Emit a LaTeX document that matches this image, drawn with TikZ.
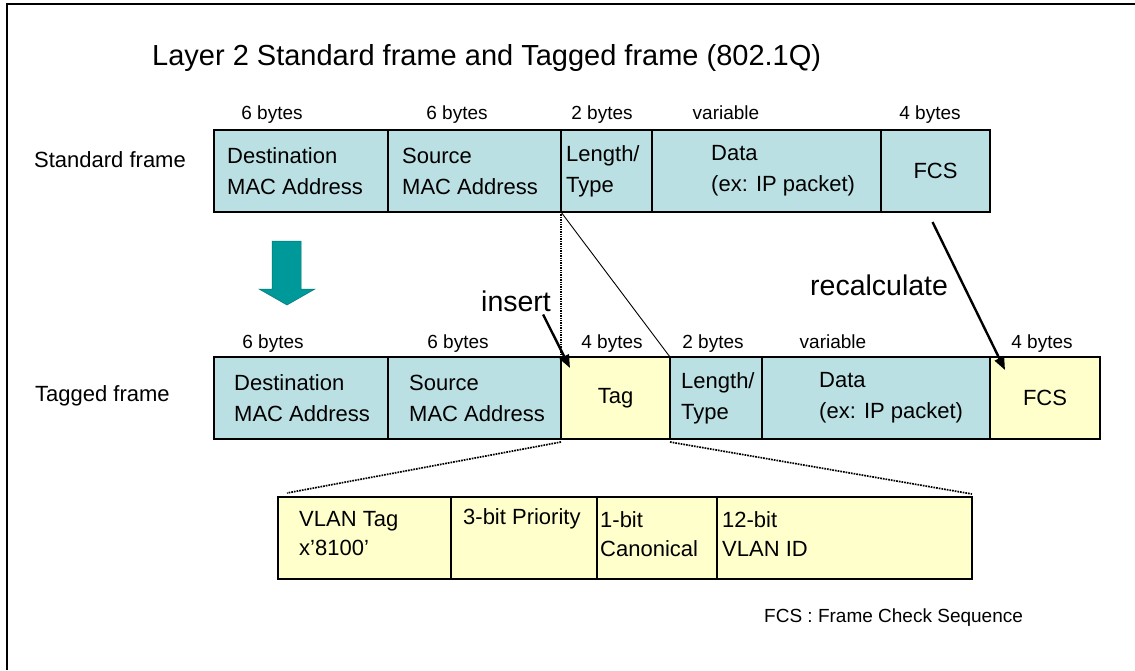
\documentclass[tikz,border=0pt]{standalone}
\usepackage{fontspec}
\setmainfont{Liberation Sans}
\usepackage{tikz}
\usetikzlibrary{arrows.meta,positioning,calc}
\definecolor{framecyan}{RGB}{187,224,227}
\definecolor{tagyellow}{RGB}{255,255,204}
\definecolor{arrowteal}{RGB}{0,153,153}

\tikzset{
  cell/.style={draw=black, line width=1.1pt, fill=framecyan, minimum height=82pt,
    inner sep=0pt, outer sep=0pt, anchor=north west, font=\fontsize{22}{26}\selectfont},
  newcell/.style={cell, fill=tagyellow},
  ctext/.style={anchor=west, align=left, inner sep=0pt, font=\fontsize{22}{31}\selectfont},
  vtext/.style={anchor=west, align=left, inner sep=0pt, font=\fontsize{22}{29}\selectfont},
  bytes/.style={anchor=base, inner sep=0pt, font=\fontsize{19}{22}\selectfont},
  framelbl/.style={anchor=west, inner sep=0pt, font=\fontsize{22}{26}\selectfont},
  callout/.style={anchor=base west, inner sep=0pt, font=\fontsize{28.5}{32}\selectfont},
  zoomline/.style={densely dotted, line width=1.7pt, draw=black},
  bigarrow/.style={line width=2.4pt, -{Triangle[length=13pt,width=10pt]}}
}

\begin{document}
\begin{tikzpicture}[x=1pt,y=-1pt]
  \useasboundingbox (0,0) rectangle (1135,670);
  % outer frame, top and left edges only
  \draw[line width=2.5pt] (7,670) -- (7,4) -- (1135,4);
  \node[anchor=base west, inner sep=0pt, font=\fontsize{29}{32}\selectfont] (title) at (152,65)
    {Layer 2 Standard frame and Tagged frame (802.1Q)};

  % standard frame
  \node[framelbl] (stdlbl) at (34,160) {Standard frame};
  \node[cell, minimum width=174pt] (sdst) at (214,130) {};
  \node[cell, minimum width=173pt] (ssrc) at (sdst.north east) {};
  \node[cell, minimum width=91pt] (slen) at (ssrc.north east) {};
  \node[cell, minimum width=229pt] (sdat) at (slen.north east) {};
  \node[cell, minimum width=109pt] (sfcs) at (sdat.north east) {FCS};
  \node[ctext] (sdst-t) at ([xshift=13pt]sdst.west) {Destination\\MAC Address};
  \node[ctext] (ssrc-t) at ([xshift=14pt]ssrc.west) {Source\\MAC Address};
  \node[ctext] (slen-t) at ([xshift=5pt]slen.west) {Length/\\Type};
  \node[ctext] (sdat-t) at ([xshift=59pt]sdat.west) {Data\\(ex: IP packet)};
  \node[bytes] (sb1) at (272,119) {6 bytes};
  \node[bytes] (sb2) at (457,119) {6 bytes};
  \node[bytes] (sb3) at (602,119) {2 bytes};
  \node[bytes] (sb4) at (726,119) {variable};
  \node[bytes] (sb5) at (930,119) {4 bytes};

  % conversion arrow
  \filldraw[fill=arrowteal, draw=arrowteal!75!black, line width=0.5pt]
    (272,241) -- (301,241) -- (301,289) -- (315,289) -- (287,305) -- (259,289) -- (272,289) -- cycle;

  % tagged frame
  \node[framelbl] (taglbl) at (35,396) {Tagged frame};
  \node[cell, minimum width=174pt] (tdst) at (214,357) {};
  \node[cell, minimum width=173pt] (tsrc) at (tdst.north east) {};
  \node[newcell, minimum width=109pt] (ttag) at (tsrc.north east) {Tag};
  \node[cell, minimum width=92pt] (tlen) at (ttag.north east) {};
  \node[cell, minimum width=228pt] (tdat) at (tlen.north east) {};
  \node[newcell, minimum width=110pt] (tfcs) at (tdat.north east) {FCS};
  \node[ctext] (tdst-t) at ([xshift=20pt]tdst.west) {Destination\\MAC Address};
  \node[ctext] (tsrc-t) at ([xshift=21pt]tsrc.west) {Source\\MAC Address};
  \node[ctext] (tlen-t) at ([xshift=11pt]tlen.west) {Length/\\Type};
  \node[ctext] (tdat-t) at ([xshift=57pt]tdat.west) {Data\\(ex: IP packet)};
  \node[bytes] (tb1) at (273,348) {6 bytes};
  \node[bytes] (tb2) at (458,348) {6 bytes};
  \node[bytes] (tb3) at (612,348) {4 bytes};
  \node[bytes] (tb4) at (713,348) {2 bytes};
  \node[bytes] (tb5) at (833,348) {variable};
  \node[bytes] (tb6) at (1042,348) {4 bytes};

  % 802.1Q tag detail
  \node[newcell, minimum width=173pt] (vtag) at (278,497) {};
  \node[newcell, minimum width=146pt] (vpri) at (vtag.north east) {};
  \node[newcell, minimum width=120pt] (vcan) at (vpri.north east) {};
  \node[newcell, minimum width=255pt] (vid) at (vcan.north east) {};
  \node[vtext] (vtag-t) at ([xshift=21pt,yshift=4pt]vtag.west) {VLAN Tag\\x’8100’};
  \node[vtext] (vpri-t) at ([xshift=12pt,yshift=19pt]vpri.west) {3-bit Priority};
  \node[vtext] (vcan-t) at ([xshift=3pt,yshift=4pt]vcan.west) {1-bit\\Canonical};
  \node[vtext] (vid-t) at ([xshift=5pt,yshift=4pt]vid.west) {12-bit\\VLAN ID};

  % where the tag goes
  \draw[densely dotted, line width=1.4pt] (ssrc.south east) -- (ttag.north west);
  \draw[line width=0.9pt] (ssrc.south east) -- (ttag.north east);
  \draw[zoomline] ([yshift=-3pt]ttag.south west) -- ([xshift=9pt,yshift=4pt]vtag.north west);
  \draw[zoomline] ([yshift=-3pt]ttag.south east) -- ([yshift=3pt]vid.north east);

  \node[callout] (ins) at (481,311) {insert};
  \node[callout] (recalc) at (810,295) {recalculate};
  \draw[bigarrow] ([xshift=-8pt,yshift=-3pt]ins.south east) -- ([xshift=9pt,yshift=-11pt]ttag.north west);
  \draw[bigarrow] ([xshift=-3pt,yshift=-10pt]sfcs.south) -- ([xshift=15pt,yshift=-13pt]tfcs.north west);

  \node[anchor=base west, inner sep=0pt, font=\fontsize{19}{22}\selectfont] (legend) at (764,622)
    {FCS : Frame Check Sequence};
\end{tikzpicture}
\end{document}
